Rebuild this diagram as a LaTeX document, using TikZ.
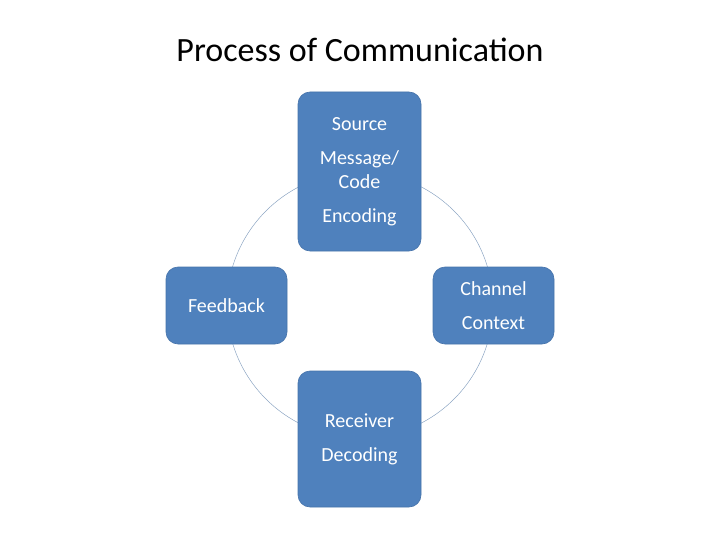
\documentclass[tikz,border=0pt]{standalone}
\usepackage{fontspec}
\setmainfont{Carlito}
\definecolor{boxblue}{RGB}{79,129,189}
\definecolor{boxedge}{RGB}{70,115,170}
\definecolor{ringc}{RGB}{140,165,195}
\begin{document}
\begin{tikzpicture}[x=1pt,y=-1pt,
  box/.style={draw=boxedge,fill=boxblue,rounded corners=12pt,text=white,font=\fontsize{20}{24}\selectfont,align=center,line width=0.6pt}]
\useasboundingbox (0,0) rectangle (720,540);
\node (title) at (360,50) {\fontsize{34}{40}\selectfont Process of Communication};
\node (ring) [draw=ringc,line width=0.5pt,circle,minimum size=266pt,inner sep=0pt] at (360,305) {};
\node (top) [box,minimum width=123pt,minimum height=159pt,text width=110pt] at (359.5,171.5)
  {Source\\[10pt]Message/\\Code\\[10pt]Encoding};
\node (left) [box,minimum width=121pt,minimum height=77pt] at (226.5,305.5) {Feedback};
\node (right) [box,minimum width=121pt,minimum height=77pt] at (493.5,305.5) {Channel\\[10pt]Context};
\node (bottom) [box,minimum width=123pt,minimum height=136pt] at (359.5,439) {Receiver\\[10pt]Decoding};
\end{tikzpicture}
\end{document}
